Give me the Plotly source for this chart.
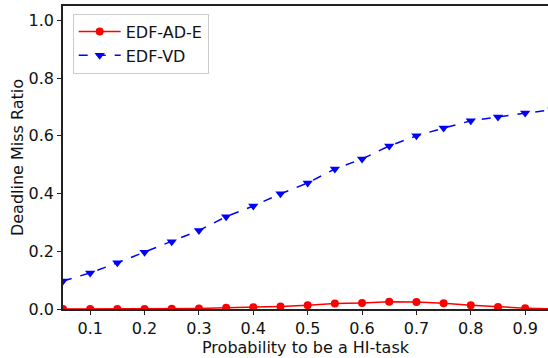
import plotly.graph_objects as go

x_vals = [0.05, 0.10, 0.15, 0.20, 0.25, 0.30, 0.35, 0.40, 0.45, 0.50,
          0.55, 0.60, 0.65, 0.70, 0.75, 0.80, 0.85, 0.90, 0.95]
edf_ad_e = [0.0, 0.0, 0.0, 0.0, 0.001, 0.002, 0.004, 0.006, 0.009, 0.013,
            0.019, 0.021, 0.025, 0.024, 0.020, 0.013, 0.007, 0.003, 0.0]
edf_vd = [0.097, 0.125, 0.160, 0.197, 0.233, 0.272, 0.320, 0.357, 0.399, 0.437,
          0.485, 0.520, 0.565, 0.600, 0.627, 0.652, 0.665, 0.679, 0.69]
x_ticks = [0.1, 0.2, 0.3, 0.4, 0.5, 0.6, 0.7, 0.8, 0.9]
y_ticks = [0.0, 0.2, 0.4, 0.6, 0.8, 1.0]

font = "DejaVu Sans"
fig = go.Figure()
fig.add_trace(go.Scatter(x=x_vals, y=edf_ad_e, name="EDF-AD-E", mode="lines+markers",
                         line=dict(color="#ff0000", width=1.5),
                         marker=dict(symbol="circle", size=8, color="#ff0000")))
fig.add_trace(go.Scatter(x=x_vals, y=edf_vd, name="EDF-VD", mode="lines+markers",
                         line=dict(color="#0000ff", width=1.5, dash="dash"),
                         marker=dict(symbol="triangle-down", size=9, color="#0000ff")))

fig.update_layout(
    width=548, height=358,
    margin=dict(l=63, r=0, t=6, b=49),
    paper_bgcolor="white", plot_bgcolor="white",
    font=dict(family=font, size=16, color="#111"),
    showlegend=True,
    legend=dict(x=0.02, y=0.975, xanchor="left", yanchor="top",
                bgcolor="white", bordercolor="#cccccc", borderwidth=1,
                itemwidth=42, font=dict(family=font, size=16)),
    xaxis=dict(range=[0.05, 0.942], tickvals=x_ticks, ticktext=[f"{v:.1f}" for v in x_ticks],
               tickfont=dict(family=font, size=16),
               showgrid=False, zeroline=False, showline=True, mirror=True,
               linecolor="#222", linewidth=1.5, ticks="outside", ticklen=4,
               tickcolor="#222", title=dict(text="Probability to be a HI-task", standoff=2,
                                            font=dict(family=font, size=16))),
    yaxis=dict(range=[0, 1.05], tickvals=y_ticks, ticktext=[f"{v:.1f}" for v in y_ticks],
               tickfont=dict(family=font, size=16),
               showgrid=False, zeroline=False, showline=True,
               linecolor="#222", linewidth=1.5, ticks="outside", ticklen=4,
               tickcolor="#222", title=dict(text="Deadline Miss Ratio", standoff=1,
                                            font=dict(family=font, size=16))),
)
fig.write_html("out.html", config={"displayModeBar": False},
               post_script="document.body.style.margin='0px';document.body.style.overflow='hidden';")
